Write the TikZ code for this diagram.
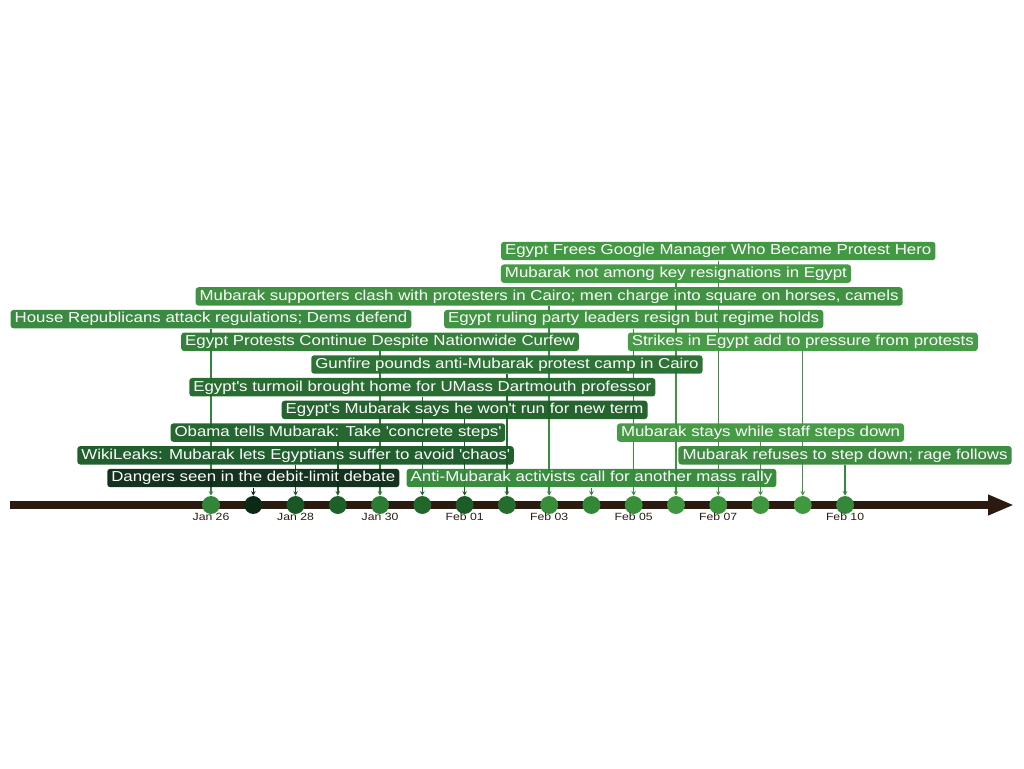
\documentclass[tikz,border=0pt]{standalone}
\usepackage{fontspec}
\setmainfont{Liberation Sans}[FakeStretch=1.17]
\usepackage{xcolor}
\usepackage{tikz}
\usetikzlibrary{arrows.meta,backgrounds}
\definecolor{axisbrown}{HTML}{2B1A0F}
\definecolor{tl0}{HTML}{33853A}
\definecolor{tl1}{HTML}{0A2A15}
\definecolor{tl2}{HTML}{195826}
\definecolor{tl3}{HTML}{1D6028}
\definecolor{tl4}{HTML}{2D7C33}
\definecolor{tl5}{HTML}{21672A}
\definecolor{tl6}{HTML}{1C5D27}
\definecolor{tl7}{HTML}{256D2E}
\definecolor{tl8}{HTML}{388E3A}
\definecolor{tl9}{HTML}{328837}
\definecolor{tl10}{HTML}{38903A}
\definecolor{tl11}{HTML}{3E973E}
\definecolor{tl12}{HTML}{3B943C}
\definecolor{tl13}{HTML}{3F973E}
\definecolor{tl14}{HTML}{40983F}
\definecolor{tl15}{HTML}{358739}
\newcommand{\evfont}{\fontsize{8.2}{9}\selectfont}
\newcommand{\dayfont}{\fontsize{5.95}{7}\selectfont}
\newcommand{\q}{\textquotesingle}

\begin{document}
\begin{tikzpicture}[x=0.02cm,y=-0.02cm,
  evbox/.style={text=white,rounded corners=1.7pt,inner xsep=2.3pt,inner ysep=0pt,
    minimum height=10.5pt,text height=6.1pt,text depth=1.7pt,fill opacity=0.96,text opacity=1,font=\evfont},
  dot/.style={circle,inner sep=0pt,minimum size=10.2pt},
  daylbl/.style={text=axisbrown,inner sep=0pt,font=\dayfont},
  stem/.style={line width=0.8pt,-{Stealth[length=2.6pt,width=2.6pt]}}]
\useasboundingbox (0,0) rectangle (1024,768);
\def\dx{42.27}
\def\lv{22.7}
\coordinate (axstart) at (10,505);
\coordinate (axend) at (1014,505);
\draw[axisbrown,line width=5.1pt,-{Triangle[length=14.7pt,width=10.8pt]}] (axstart) -- (axend);
\foreach \d in {0,...,15} \node[dot,fill=tl\d] (d\d) at (211+\d*\dx,505) {};
\foreach \d/\t in {0/Jan 26,2/Jan 28,4/Jan 30,6/Feb 01,8/Feb 03,10/Feb 05,12/Feb 07,15/Feb 10}
  \node[daylbl] (t\d) at (211+\d*\dx,517) {\t};
\foreach \d/\l/\t in {
  0/7/{House Republicans attack regulations; Dems defend},
  1/0/{Dangers seen in the debit-limit debate},
  2/1/{WikiLeaks: Mubarak lets Egyptians suffer to avoid \q chaos\q},
  3/2/{Obama tells Mubarak: Take \q concrete steps\q},
  4/6/{Egypt Protests Continue Despite Nationwide Curfew},
  5/4/{Egypt\q s turmoil brought home for UMass Dartmouth professor},
  6/3/{Egypt\q s Mubarak says he won\q t run for new term},
  7/5/{Gunfire pounds anti-Mubarak protest camp in Cairo},
  8/8/{Mubarak supporters clash with protesters in Cairo; men charge into square on horses, camels},
  9/0/{Anti-Mubarak activists call for another mass rally},
  10/7/{Egypt ruling party leaders resign but regime holds},
  11/9/{Mubarak not among key resignations in Egypt},
  12/10/{Egypt Frees Google Manager Who Became Protest Hero},
  13/2/{Mubarak stays while staff steps down},
  14/6/{Strikes in Egypt add to pressure from protests},
  15/1/{Mubarak refuses to step down; rage follows}} {
  \node[evbox,fill=tl\d] (ev\d) at (211+\d*\dx,478-\l*\lv) {\t};
  \begin{scope}[on background layer]
    \draw[stem,tl\d] (ev\d.south) -- (d\d.north);
  \end{scope}
}
\end{tikzpicture}
\end{document}
